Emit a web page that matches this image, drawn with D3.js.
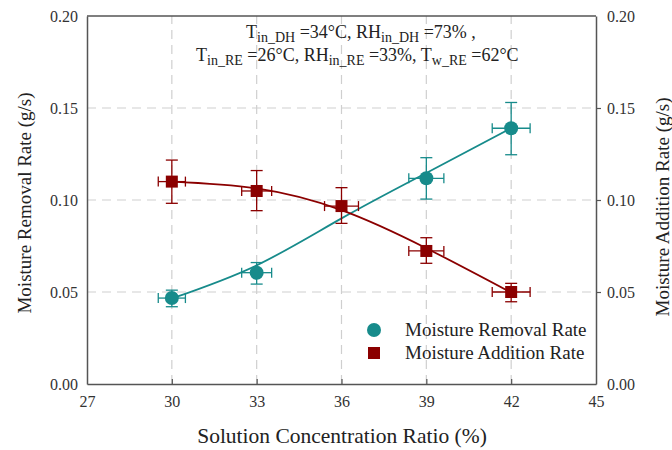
<!DOCTYPE html>
<html>
<head>
<meta charset="utf-8">
<script src="https://cdn.jsdelivr.net/npm/d3@7"></script>
<style>
  body { margin: 0; background: #fff; }
  svg, svg text { font-family: "Liberation Serif", "Times New Roman", serif; }
</style>
</head>
<body>
<svg id="svg" width="672" height="450"></svg>
<script>
// concentration ratio (%)
const ratios = [30, 33, 36, 39, 42];
const xErr = [0.48, 0.53, 0.6, 0.62, 0.67];

// moisture removal rate (g/s), dehumidifier (no marker shown at 36)
const removal = [0.0467, 0.0605, null, 0.1118, 0.139];
const removalLo = [0.042, 0.0543, null, 0.1005, 0.1246];
const removalHi = [0.051, 0.066, null, 0.123, 0.153];
const removalFit = [0.0465, 0.0645, 0.0900, 0.1147, 0.1390];

// moisture addition rate (g/s), regenerator
const addition = [0.110, 0.1049, 0.0967, 0.0723, 0.050];
const additionLo = [0.0982, 0.0942, 0.0873, 0.0656, 0.0447];
const additionHi = [0.1217, 0.116, 0.1067, 0.0795, 0.0547];
const additionFit = [0.1100, 0.1063, 0.0945, 0.0738, 0.0497];

const xTicks = [27, 30, 33, 36, 39, 42, 45];
const yTicks = [0, 0.05, 0.10, 0.15, 0.20];

const teal = '#178b8b';
const red = '#8b0000';

const margin = { left: 87, right: 76, top: 16, bottom: 66 };
const width = 672, height = 450;

const x = d3.scaleLinear().domain([27, 45]).range([margin.left, width - margin.right]);
const y = d3.scaleLinear().domain([0, 0.2]).range([height - margin.bottom, margin.top]);

const svg = d3.select('#svg');

// grid
const grid = svg.append('g')
  .attr('stroke', '#cfcfcf')
  .attr('stroke-width', 1.2)
  .attr('stroke-dasharray', '9,6');
grid.selectAll('.vgrid').data(xTicks.slice(1, -1)).enter().append('line')
  .attr('x1', d => x(d)).attr('x2', d => x(d))
  .attr('y1', y(0)).attr('y2', y(0.2));
grid.selectAll('.hgrid').data(yTicks.slice(1, -1)).enter().append('line')
  .attr('x1', x(27)).attr('x2', x(45))
  .attr('y1', d => y(d)).attr('y2', d => y(d));

// axes
const axisColor = '#555';
const styleAxis = g => {
  g.attr('font-family', null).attr('font-size', null);
  g.select('.domain').attr('stroke', axisColor).attr('stroke-width', 1.5);
  g.selectAll('.tick line').attr('stroke', axisColor).attr('stroke-width', 1.2);
  g.selectAll('.tick text').attr('fill', '#333').style('font-size', '16px');
};

svg.append('g')
  .attr('transform', `translate(0,${y(0)})`)
  .call(d3.axisBottom(x).tickValues(xTicks).tickSizeInner(-5).tickSizeOuter(0).tickPadding(12))
  .call(styleAxis)
  .call(g => g.selectAll('.tick').filter(d => d === 27 || d === 45).select('line').remove());

svg.append('g')
  .attr('transform', `translate(${x(27)},0)`)
  .call(d3.axisLeft(y).tickValues(yTicks).tickFormat(d3.format('.2f')).tickSizeInner(0).tickSizeOuter(0).tickPadding(9))
  .call(styleAxis);

svg.append('g')
  .attr('transform', `translate(${x(45)},0)`)
  .call(d3.axisRight(y).tickValues(yTicks).tickFormat(d3.format('.2f')).tickSizeInner(5).tickSizeOuter(0).tickPadding(6))
  .call(styleAxis)
  .call(g => g.selectAll('.tick').filter(d => d === 0 || d === 0.2).select('line').remove());

// top frame
svg.append('line')
  .attr('x1', x(27)).attr('x2', x(45))
  .attr('y1', y(0.2)).attr('y2', y(0.2))
  .attr('stroke', axisColor).attr('stroke-width', 1.5);

// fitted curves
const line = d3.line()
  .curve(d3.curveNatural)
  .x((d, i) => x(ratios[i]))
  .y(d => y(d));

svg.append('path').attr('d', line(removalFit))
  .attr('fill', 'none').attr('stroke', teal).attr('stroke-width', 1.8);
svg.append('path').attr('d', line(additionFit))
  .attr('fill', 'none').attr('stroke', red).attr('stroke-width', 1.8);

// error bars
const drawErrors = (vals, lo, hi, color) => {
  const g = svg.append('g').attr('stroke', color).attr('stroke-width', 1.3).attr('fill', 'none');
  vals.forEach((v, i) => {
    if (v === null) return;
    const cx = x(ratios[i]), cy = y(v);
    const x0 = x(ratios[i] - xErr[i]), x1 = x(ratios[i] + xErr[i]);
    g.append('line').attr('x1', cx).attr('x2', cx).attr('y1', y(lo[i])).attr('y2', y(hi[i]));
    g.append('line').attr('x1', cx - 6).attr('x2', cx + 6).attr('y1', y(lo[i])).attr('y2', y(lo[i]));
    g.append('line').attr('x1', cx - 6).attr('x2', cx + 6).attr('y1', y(hi[i])).attr('y2', y(hi[i]));
    g.append('line').attr('x1', x0).attr('x2', x1).attr('y1', cy).attr('y2', cy);
    g.append('line').attr('x1', x0).attr('x2', x0).attr('y1', cy - 5).attr('y2', cy + 5);
    g.append('line').attr('x1', x1).attr('x2', x1).attr('y1', cy - 5).attr('y2', cy + 5);
  });
};

drawErrors(removal, removalLo, removalHi, teal);
svg.selectAll('.circ')
  .data(removal.map((v, i) => ({ r: ratios[i], v })).filter(d => d.v !== null))
  .enter().append('circle')
  .attr('cx', d => x(d.r))
  .attr('cy', d => y(d.v))
  .attr('r', 7)
  .attr('fill', teal);

drawErrors(addition, additionLo, additionHi, red);
svg.selectAll('.sq').data(addition).enter().append('rect')
  .attr('x', (d, i) => x(ratios[i]) - 6)
  .attr('y', d => y(d) - 6)
  .attr('width', 12).attr('height', 12)
  .attr('fill', red);

// legend
const legend = svg.append('g').attr('transform', 'translate(374,330)');
legend.append('circle').attr('cx', 0).attr('cy', 0).attr('r', 7).attr('fill', teal);
legend.append('rect').attr('x', -6).attr('y', 17).attr('width', 12).attr('height', 12).attr('fill', red);
legend.append('text').attr('x', 31).attr('y', 6).text('Moisture Removal Rate')
  .style('font-size', '19px').attr('fill', '#222');
legend.append('text').attr('x', 31).attr('y', 29).text('Moisture Addition Rate')
  .style('font-size', '19px').attr('fill', '#222');

// condition annotation
const note = svg.append('g').style('font-size', '18px').attr('fill', '#222');
const addRich = (tx, ty, parts) => {
  const t = note.append('text').attr('x', tx).attr('y', ty);
  let low = false;
  parts.forEach(p => {
    const s = t.append('tspan').text(p[0]);
    if (p[1] && !low) { s.attr('dy', 4); low = true; }
    else if (!p[1] && low) { s.attr('dy', -4); low = false; }
    if (p[1]) s.style('font-size', '14px');
  });
};
addRich(246, 38, [['T'], ['in_DH', 1], [' =34°C, RH'], ['in_DH', 1], [' =73% ,']]);
addRich(196, 61, [['T'], ['in_RE', 1], ['  =26°C, RH'], ['in_RE', 1], [' =33%, T'], ['w_RE', 1], [' =62°C']]);

// axis titles
svg.append('text')
  .attr('transform', `translate(31,${(y(0) + y(0.2)) / 2 + 3}) rotate(-90)`)
  .attr('text-anchor', 'middle')
  .style('font-size', '19px').attr('fill', '#222')
  .text('Moisture Removal Rate (g/s)');
svg.append('text')
  .attr('transform', `translate(669,${(y(0) + y(0.2)) / 2 + 7}) rotate(-90)`)
  .attr('text-anchor', 'middle')
  .style('font-size', '19px').attr('fill', '#222')
  .text('Moisture Addition Rate (g/s)');
svg.append('text')
  .attr('x', 342).attr('y', 443)
  .attr('text-anchor', 'middle')
  .style('font-size', '21.5px').attr('fill', '#222')
  .text('Solution Concentration Ratio (%)');
</script>
</body>
</html>
